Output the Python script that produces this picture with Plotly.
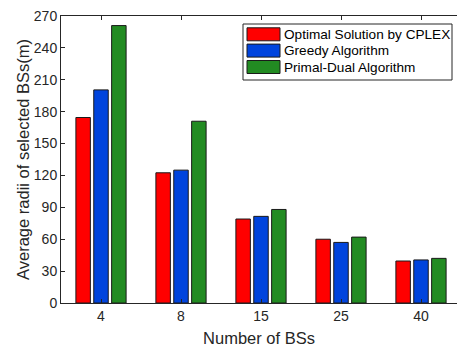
import plotly.graph_objects as go

categories = ["4", "8", "15", "25", "40"]
cplex = [174.5, 122.5, 79, 60, 39.5]
greedy = [200.5, 125, 81.5, 57, 40.5]
primal_dual = [261, 171, 88, 62, 42]
y_ticks = [0, 30, 60, 90, 120, 150, 180, 210, 240, 270]

series_names = ["Optimal Solution by CPLEX", "Greedy Algorithm", "Primal-Dual Algorithm"]
series_values = [cplex, greedy, primal_dual]
series_colors = ["#ff0000", "#0044dd", "#228b22"]

W, H = 457, 351
L, R, T, B = 61, 0, 16, 48
PW, PH = W - L - R, H - T - B


def px_x(x):
    return (x - L) / PW


def px_y(y):
    return (H - B - y) / PH


fig = go.Figure()
for name, vals, color in zip(series_names, series_values, series_colors):
    fig.add_trace(go.Bar(
        x=categories, y=vals, name=name,
        marker=dict(color=color, line=dict(color="#1a1a1a", width=1)),
    ))

font = dict(family="Liberation Sans, Arial, sans-serif", size=14, color="#262626")

# manual legend (MATLAB-style wide swatches)
shapes = [dict(type="rect", xref="paper", yref="paper",
               x0=px_x(243), x1=px_x(452), y0=px_y(80), y1=px_y(24),
               line=dict(color="#262626", width=1), fillcolor="white", layer="above")]
annotations = []
row_centers = [34.3, 50.6, 67.0]
for name, color, yc in zip(series_names, series_colors, row_centers):
    shapes.append(dict(type="rect", xref="paper", yref="paper",
                       x0=px_x(247), x1=px_x(280), y0=px_y(yc + 6.5), y1=px_y(yc - 6.5),
                       line=dict(color="#1a1a1a", width=1), fillcolor=color, layer="above"))
    annotations.append(dict(xref="paper", yref="paper", x=px_x(282), y=px_y(yc),
                            xanchor="left", yanchor="middle", showarrow=False,
                            text=name, font=dict(family="Liberation Sans, Arial, sans-serif",
                                                 size=13.6, color="#000000")))

fig.update_layout(
    width=W, height=H,
    margin=dict(l=L, r=R, t=T, b=B),
    paper_bgcolor="white", plot_bgcolor="white",
    barmode="group", bargap=0.33, bargroupgap=0.19,
    font=font,
    showlegend=False,
    shapes=shapes, annotations=annotations,
    xaxis=dict(
        type="category", range=[-0.5, 4.45],
        showline=True, linecolor="#262626", linewidth=1, mirror="ticks",
        ticks="inside", ticklen=4, tickcolor="#262626",
        showgrid=False, zeroline=False,
        title=dict(text="Number of BSs", standoff=9, font=dict(size=16.5)),
        tickfont=dict(size=14),
    ),
    yaxis=dict(
        range=[0, 270], tickvals=y_ticks,
        showline=True, linecolor="#262626", linewidth=1,
        ticks="inside", ticklen=4, tickcolor="#262626",
        showgrid=False, zeroline=False,
        title=dict(text="Average radii of selected BSs(m)", standoff=0, font=dict(size=16.5)),
        tickfont=dict(size=14),
    ),
)

fig.write_html("out.html")
